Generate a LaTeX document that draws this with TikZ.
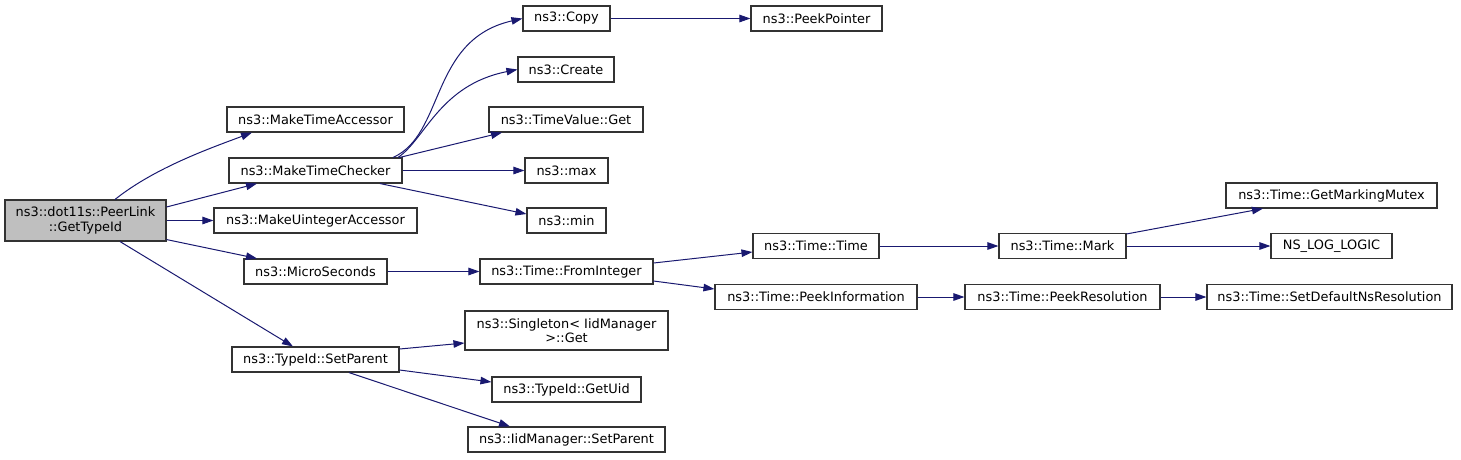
\documentclass[tikz,border=0pt]{standalone}
\usepackage{fontspec}
\setmainfont{DejaVu Sans}
\usepackage{xcolor}
\usetikzlibrary{arrows.meta}
\usetikzlibrary{calc}

\definecolor{edgeblue}{HTML}{191970}
\definecolor{boxgray}{HTML}{333333}
\definecolor{rootfill}{HTML}{BFBFBF}

\tikzset{
  fn/.style={draw=boxgray, line width=1.1pt, fill=white, minimum height=25pt, inner sep=0pt,
    align=center, font=\fontsize{12.9}{14.5}\selectfont},
  call/.style={draw=edgeblue, line width=1pt, -{Triangle[length=11pt,width=7.5pt]}}
}

\begin{document}
\begin{tikzpicture}[x=1pt,y=-1pt]
  \useasboundingbox (0,0) rectangle (1461,459);
  \node[fn, fill=rootfill, minimum width=161pt, minimum height=41pt] (root) at (85.5,220.5) {ns3::dot11s::PeerLink\\::GetTypeId};
  \node[fn, minimum width=177pt] (mta) at (315.5,119.5) {ns3::MakeTimeAccessor};
  \node[fn, minimum width=173pt] (mtc) at (315.5,170.5) {ns3::MakeTimeChecker};
  \node[fn, minimum width=203pt] (mua) at (315.5,220.5) {ns3::MakeUintegerAccessor};
  \node[fn, minimum width=143pt] (mus) at (315.5,271.5) {ns3::MicroSeconds};
  \node[fn, minimum width=167pt] (tsp) at (315.5,359.5) {ns3::TypeId::SetParent};
  \node[fn, minimum width=87pt] (copy) at (566.5,18.5) {ns3::Copy};
  \node[fn, minimum width=131pt] (ppt) at (816.5,18.5) {ns3::PeekPointer};
  \node[fn, minimum width=96pt] (create) at (566,69.5) {ns3::Create};
  \node[fn, minimum width=154pt] (tvg) at (566,119.5) {ns3::TimeValue::Get};
  \node[fn, minimum width=83pt] (tmax) at (566.5,170.5) {ns3::max};
  \node[fn, minimum width=79pt] (tmin) at (566.5,220.5) {ns3::min};
  \node[fn, minimum width=173pt] (fromint) at (566.5,271.5) {ns3::Time::FromInteger};
  \node[fn, minimum width=203pt, minimum height=39pt] (sing) at (566.5,330.5) {ns3::Singleton< IidManager\\>::Get};
  \node[fn, minimum width=149pt] (uid) at (566.5,389.5) {ns3::TypeId::GetUid};
  \node[fn, minimum width=197pt] (iidsp) at (566.5,439.5) {ns3::IidManager::SetParent};
  \node[fn, minimum width=126pt] (ttime) at (816,246) {ns3::Time::Time};
  \node[fn, minimum width=202pt] (peekinfo) at (816,297) {ns3::Time::PeekInformation};
  \node[fn, minimum width=127pt] (mark) at (1062.5,246) {ns3::Time::Mark};
  \node[fn, minimum width=195pt] (peekres) at (1062.5,297) {ns3::Time::PeekResolution};
  \node[fn, minimum width=211pt] (gmm) at (1331.5,195.5) {ns3::Time::GetMarkingMutex};
  \node[fn, minimum width=121pt] (nll) at (1331.5,246) {NS\_LOG\_LOGIC};
  \node[fn, minimum width=245pt] (sdnr) at (1329.5,297) {ns3::Time::SetDefaultNsResolution};

  \draw[call] ($(root.north)+(29.5,0)$) .. controls +(40,-32) and +(-40,15) .. ($(mta.south)+(-63.5,0)$);
  \draw[call] ($(root.east)+(0,-13.5)$) -- ($(mtc.south)+(-58.5,0)$);
  \draw[call] (root.east) -- (mua.west);
  \draw[call] ($(root.south east)+(0,-2)$) -- ($(mus.north)+(-58.5,0)$);
  \draw[call] ($(root.south)+(34.5,0)$) -- ($(tsp.north)+(-22.5,0)$);
  \draw[call] ($(mtc.north)+(77.5,0)$) .. controls +(52,-23) and +(-93,21) .. (copy.west);
  \draw[call] ($(mtc.north)+(82.5,0)$) .. controls +(27,-18) and +(-78,15.5) .. (create.west);
  \draw[call] ($(mtc.north east)+(-3,0)$) -- ($(tvg.south)+(-64,0)$);
  \draw[call] (mtc.east) -- (tmax.west);
  \draw[call] ($(mtc.south)+(64.5,0)$) -- ($(tmin.west)+(0,-6.5)$);
  \draw[call] (copy.east) -- (ppt.west);
  \draw[call] (mus.east) -- (fromint.west);
  \draw[call] ($(fromint.east)+(0,-8.5)$) -- ($(ttime.west)+(0,6)$);
  \draw[call] ($(fromint.east)+(0,9.5)$) -- ($(peekinfo.west)+(0,-8)$);
  \draw[call] (ttime.east) -- (mark.west);
  \draw[call] ($(mark.north east)+(0,1)$) -- ($(gmm.south)+(-68.5,0)$);
  \draw[call] (mark.east) -- (nll.west);
  \draw[call] (peekinfo.east) -- (peekres.west);
  \draw[call] (peekres.east) -- (sdnr.west);
  \draw[call] ($(tsp.east)+(0,-10.5)$) -- ($(sing.west)+(0,12.5)$);
  \draw[call] ($(tsp.east)+(0,10.5)$) -- ($(uid.west)+(0,-7.5)$);
  \draw[call] ($(tsp.south)+(33.5,0)$) -- ($(iidsp.north)+(-56.5,0)$);
\end{tikzpicture}
\end{document}
